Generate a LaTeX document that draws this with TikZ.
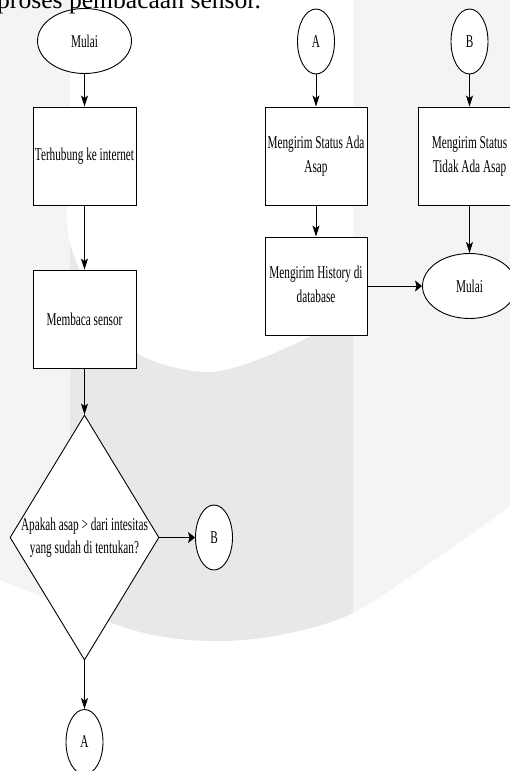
\documentclass[tikz,border=0pt]{standalone}
\usepackage{graphicx}
\usepackage{fontspec}
\setmainfont{Liberation Serif}
\usetikzlibrary{shapes.geometric,arrows.meta}

% condensed label text
\newcommand{\cond}[1]{\scalebox{0.625}[1]{#1}}
\newcommand{\condlines}[1]{\cond{\begin{tabular}{@{}c@{}}#1\end{tabular}}}

\definecolor{bglight}{RGB}{244,244,244}
\definecolor{bgdark}{RGB}{232,232,232}

\tikzset{
  base/.style={draw=black, line width=0.9pt, fill=white, inner sep=0pt,
    font=\fontsize{18}{23.5}\selectfont},
  procbox/.style={base, rectangle, minimum width=103pt, minimum height=98pt},
  term/.style={base, ellipse, minimum width=94pt, minimum height=65pt},
  conn/.style={base, ellipse, minimum width=37pt, minimum height=65pt},
  decide/.style={base, diamond, aspect=1, minimum width=149pt, minimum height=245pt},
  vflow/.style={-{Stealth[length=11pt,width=7pt,inset=2.5pt]}, line width=0.9pt},
  hflow/.style={-{Stealth[length=7pt,width=11pt,inset=1.5pt]}, line width=0.9pt},
}

\begin{document}
\begin{tikzpicture}[x=1pt,y=-1pt]
\useasboundingbox (0,0) rectangle (509,771);

% background watermark
\fill[bglight] (-2,-2) -- (511,-2) -- (511,500)
  -- plot[smooth] coordinates {(509,507) (440,556) (353,613) (280,635) (210,641) (133,630) (0,580) (-2,579)}
  -- cycle;
\begin{scope}
  \clip (-2,-2) -- (511,-2) -- (511,500)
    -- plot[smooth] coordinates {(509,507) (440,556) (353,613) (280,635) (210,641) (133,630) (0,580) (-2,579)}
    -- cycle;
  \fill[bgdark] (70,-2) rectangle (353,772);
  \fill[white] (70,-2) -- (70,150)
    -- plot[smooth] coordinates {(70,150) (70,243) (122,343) (210,372) (307,338) (353,300)}
    -- (353,-2) -- cycle;
\end{scope}

% left column
\node[term] (start) at (84.5,41) {\cond{Mulai}};
\node[procbox] (net) at (84.5,156) {\cond{Terhubung ke internet}};
\node[procbox] (read) at (84.5,319) {\cond{Membaca sensor}};
\node[decide] (dec) at (84.5,537.5) {\makebox[40pt][c]{\condlines{Apakah asap > dari intesitas\\yang sudah di tentukan?}}};
\node[conn] (toB) at (214,537.5) {\cond{B}};
\node[conn] (toA) at (84.5,742) {\cond{A}};

% right columns
\node[conn] (fromA) at (316,41.5) {\cond{A}};
\node[conn] (fromB) at (469.5,41.5) {\cond{B}};
\node[procbox, minimum width=102pt] (smoke) at (316,156) {\condlines{Mengirim Status Ada\\Asap}};
\node[procbox, minimum width=102pt] (hist) at (316,286) {\condlines{Mengirim History di\\database}};
\node[procbox] (nosmoke) at (469.5,156) {\condlines{Mengirim Status\\Tidak Ada Asap}};
\node[term] (restart) at (469.5,286) {\cond{Mulai}};

% connectors
\draw[vflow] (start) -- (net);
\draw[vflow] (net) -- (read);
\draw[vflow] (read) -- (dec);
\draw[hflow] (dec) -- (toB);
\draw[vflow] (dec) -- (toA);
\draw[vflow] (fromA) -- (smoke);
\draw[vflow] (smoke) -- (hist);
\draw[hflow] (hist) -- (restart);
\draw[vflow] (fromB) -- (nosmoke);
\draw[vflow] (nosmoke) -- (restart);

% last line of the text above, running off the top edge
\node[anchor=base west, inner sep=0pt, font=\fontsize{25.6}{30}\selectfont] (heading) at (-3,8.5) {proses pembacaan sensor.};
\end{tikzpicture}
\end{document}
